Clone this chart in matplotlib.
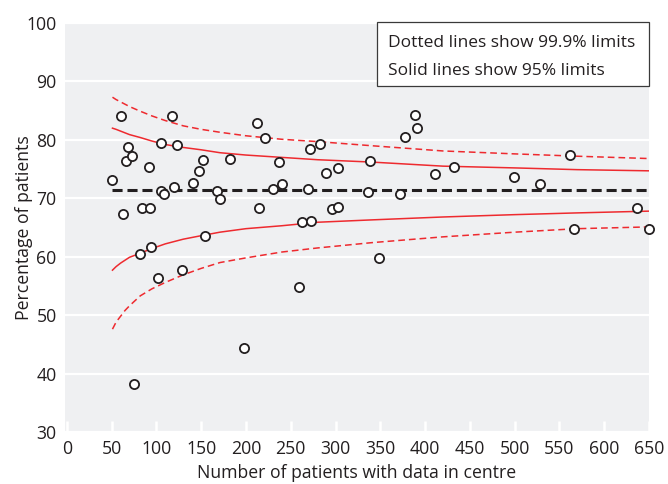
import matplotlib
matplotlib.use("Agg")
import matplotlib.pyplot as plt
from matplotlib.patches import Rectangle

plt.rcParams['font.family'] = ['Open Sans', 'DejaVu Sans']

# ---- data ----
centre_n = [50.6, 60.6, 62.5, 65.8, 68.8, 72.5, 74.8, 81.8, 83.7, 91.5,
            93.0, 94.4, 101.6, 104.9, 105.6, 108.2, 117.2, 119.7, 122.8, 129.0,
            140.6, 148.0, 151.8, 154.7, 168.1, 171.1, 181.9, 197.9, 212.0, 215.0,
            221.3, 230.2, 237.3, 240.6, 258.9, 262.2, 269.3, 271.5, 272.3, 282.7,
            289.4, 296.4, 302.4, 302.8, 336.6, 338.5, 348.5, 371.6, 377.9, 388.7,
            391.0, 411.0, 432.6, 498.9, 528.2, 561.3, 566.2, 636.1, 650.0]
centre_pct = [73.2, 84.0, 67.3, 76.3, 78.7, 77.2, 38.3, 60.4, 68.4, 75.3,
              68.3, 61.6, 56.4, 79.4, 71.3, 70.7, 84.0, 72.0, 79.2, 57.8,
              72.7, 74.7, 76.6, 63.6, 71.2, 69.9, 76.7, 44.3, 82.9, 68.3,
              80.3, 71.6, 76.2, 72.4, 54.8, 65.9, 71.6, 78.4, 66.1, 79.3,
              74.3, 68.2, 75.1, 68.5, 71.1, 76.3, 59.7, 70.8, 80.5, 84.2,
              82.0, 74.1, 75.4, 73.6, 72.5, 77.4, 64.8, 68.4, 64.8]

limit_n = [51, 55, 60, 65, 70, 82, 95, 110, 130, 150, 171, 200, 240, 280, 340, 420, 500, 570, 650]
upper_999 = [87.3, 86.9, 86.5, 86.1, 85.7, 84.9, 84.1, 83.3, 82.4, 81.8, 81.3, 80.7, 80.1, 79.7, 79.0, 78.1, 77.6, 77.2, 76.8]
upper_95 = [82.0, 81.8, 81.5, 81.2, 80.9, 80.4, 79.8, 79.2, 78.7, 78.3, 77.8, 77.4, 77.0, 76.6, 76.2, 75.5, 75.2, 74.9, 74.7]
lower_95 = [57.7, 58.3, 58.9, 59.4, 59.9, 60.6, 61.4, 62.2, 63.0, 63.6, 64.2, 64.8, 65.3, 65.9, 66.3, 66.8, 67.2, 67.5, 67.8]
lower_999 = [47.6, 48.8, 49.8, 50.8, 51.6, 53.3, 54.5, 55.6, 56.9, 58.0, 59.0, 59.8, 60.8, 61.5, 62.4, 63.4, 64.2, 64.8, 65.1]
overall_pct = 71.4
mean_span = [51, 650]

xticks = list(range(0, 651, 50))
yticks = list(range(30, 101, 10))
legend_lines = ["Dotted lines show 99.9% limits", "Solid lines show 95% limits"]
xlabel = "Number of patients with data in centre"
ylabel = "Percentage of patients"

# ---- drawing ----
W, H = 668, 484
fig = plt.figure(figsize=(W / 100, H / 100), dpi=100)
ax = fig.add_axes([65 / W, 1 - 432 / H, (649 - 65) / W, (432 - 23) / H])
ax.set_facecolor('#eff0f2')
for s in ax.spines.values():
    s.set_visible(False)

ax.set_xlim(-2, 650)
ax.set_ylim(30, 100)
ax.set_xticks(xticks)
ax.set_yticks(yticks)
txtc = '#231f20'
ax.tick_params(axis='x', direction='in', length=8, width=1.8, color='white',
               labelsize=12.7, labelcolor=txtc, pad=6)
ax.tick_params(axis='y', length=0, labelsize=12.7, labelcolor=txtc, pad=6)
ax.yaxis.grid(True, color='white', linewidth=1.6)
ax.set_axisbelow(True)

red = '#ee2a2f'
ax.plot(limit_n, upper_999, color=red, lw=1.1, dashes=(4.4, 2.6))
ax.plot(limit_n, lower_999, color=red, lw=1.1, dashes=(4.4, 2.6))
ax.plot(limit_n, upper_95, color=red, lw=1.1)
ax.plot(limit_n, lower_95, color=red, lw=1.1)
ax.plot(mean_span, [overall_pct, overall_pct], color='#231f20', lw=2.2, dashes=(3.3, 1.6))

ax.plot(centre_n, centre_pct, 'o', ms=6.6, mfc='white', mec='#231f20', mew=1.3,
        clip_on=False, zorder=5)

ax.set_xlabel(xlabel, fontsize=12.7, color=txtc, labelpad=4)
ax.set_ylabel(ylabel, fontsize=12.7, color=txtc)
ax.yaxis.set_label_coords(-0.055, 0.5)

ax.add_patch(Rectangle((0.534, 0.846), 0.466, 0.156, transform=ax.transAxes,
                       facecolor='white', edgecolor='#3a3a3a', lw=0.9, zorder=6,
                       clip_on=False))
ax.text(0.553, 0.9406, legend_lines[0], transform=ax.transAxes, fontsize=12.5,
        color=txtc, va='baseline', ha='left', zorder=7)
ax.text(0.553, 0.873, legend_lines[1], transform=ax.transAxes, fontsize=12.5,
        color=txtc, va='baseline', ha='left', zorder=7)

fig.savefig('out.png', dpi=100)
